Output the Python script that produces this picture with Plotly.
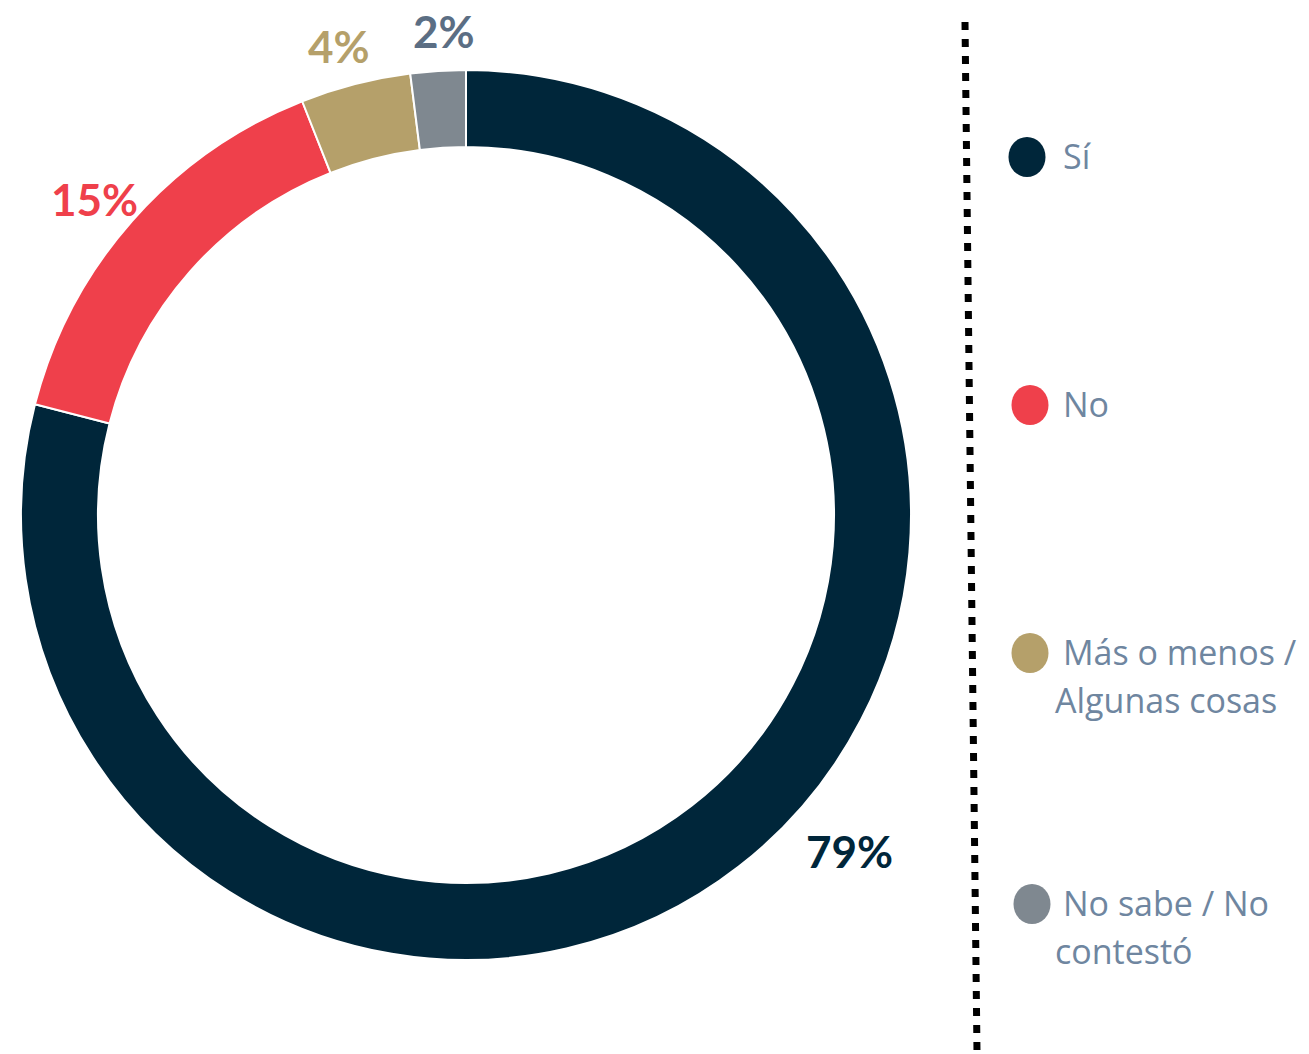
"""Donut chart: Sí / No / Más o menos / No sabe, with a hand-drawn legend on the right."""

import math

import plotly.graph_objects as go

# Data
categories = ["Sí", "No", "Más o menos /<br>Algunas cosas", "No sabe / No<br>contestó"]
values = [79, 15, 4, 2]
slice_colors = ["#00263a", "#ef404b", "#b5a06a", "#7f8890"]
label_colors = ["#00263a", "#ef404b", "#b5a06a", "#5b6e84"]

W, H = 1309, 1054
OFF = 8  # page body margin in the screenshot
CX, CY, R = 466 - OFF, 515 - OFF, 445  # donut centre / outer radius in pixels


def px(x, y):
    """screen pixel -> paper coords"""
    return (x - OFF) / W, 1 - (y - OFF) / H


fig = go.Figure()

fig.add_trace(
    go.Pie(
        labels=categories,
        values=values,
        hole=0.827,
        sort=False,
        direction="clockwise",
        rotation=0,
        marker=dict(colors=slice_colors, line=dict(color="white", width=2)),
        textinfo="none",
        hoverinfo="label+percent",
        domain=dict(
            x=[(CX - R) / W, (CX + R) / W],
            y=[1 - (CY + R) / H, 1 - (CY - R) / H],
        ),
        showlegend=False,
    )
)

annotations = []
shapes = []

# Percent labels outside the ring, placed on each slice's mid angle
angle_shift = [-11, -1, -0.7, 1]  # nudges, like Excel's "best fit"
label_radius = [510, 488, 486, 484]
total = sum(values)
cum = 0
for i, v in enumerate(values):
    mid = (cum + v / 2) / total * 360 + angle_shift[i]
    cum += v
    t = math.radians(mid)
    lx = CX + OFF + label_radius[i] * math.sin(t)
    ly = CY + OFF - label_radius[i] * math.cos(t)
    x, y = px(lx, ly)
    annotations.append(
        dict(
            x=x, y=y, xref="paper", yref="paper",
            text=f"<b>{round(v / total * 100)}%</b>",
            showarrow=False,
            xanchor="center", yanchor="middle",
            font=dict(family="Lato", size=44, color=label_colors[i]),
        )
    )

# Dotted divider
x0, y0 = px(965, 22)
x1, y1 = px(977, 1052)
shapes.append(
    dict(
        type="line", xref="paper", yref="paper",
        x0=x0, y0=y0, x1=x1, y1=y1,
        line=dict(color="black", width=7, dash="8px,9px"),
    )
)

# Legend (circles + wrapped text)
legend_cy = [157, 405, 653, 904]
legend_cx = [1027, 1030, 1030, 1032]
for i, name in enumerate(categories):
    cx, cy = legend_cx[i], legend_cy[i]
    a0 = px(cx - 18.5, cy + 20)
    a1 = px(cx + 18.5, cy - 20)
    shapes.append(
        dict(
            type="circle", xref="paper", yref="paper",
            x0=a0[0], y0=a0[1], x1=a1[0], y1=a1[1],
            fillcolor=slice_colors[i], line=dict(width=0),
        )
    )
    for j, line in enumerate(name.split("<br>")):
        tx = 1061 if j == 0 else 1053
        tx, ty = px(tx, cy - 1 + 48 * j)
        annotations.append(
            dict(
                x=tx, y=ty, xref="paper", yref="paper",
                text=line, showarrow=False,
                xanchor="left", yanchor="middle",
                font=dict(family="Open Sans", size=34, color="#6f86a0"),
            )
        )

fig.update_layout(
    width=W,
    height=H,
    margin=dict(l=0, r=0, t=0, b=0),
    paper_bgcolor="white",
    plot_bgcolor="white",
    showlegend=False,
    annotations=annotations,
    shapes=shapes,
)

fig.write_html("out.html")
